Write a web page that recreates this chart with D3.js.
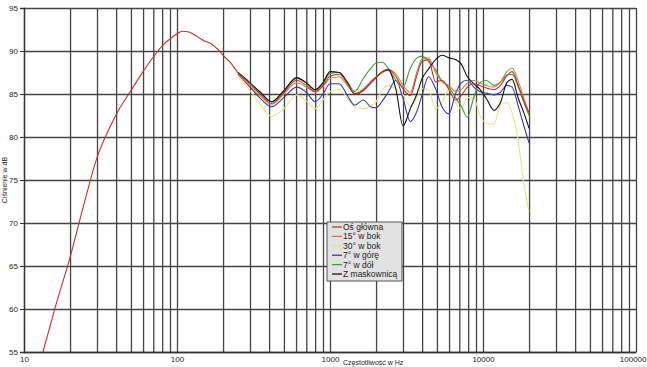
<!DOCTYPE html>
<html>
<head>
<meta charset="utf-8">
<script src="https://cdn.jsdelivr.net/npm/d3@7"></script>
<style>
  body { margin: 0; background: #fff; }
  text { font-family: "Liberation Sans", Arial, sans-serif; fill: #222; }
  .grid line { stroke: #444; stroke-width: 1.3; }
  .grid path { display: none; }
</style>
</head>
<body>
<div id="chart"></div>
<script>
// ---- data ----
var yTicks = [55, 60, 65, 70, 75, 80, 85, 90, 95];
var xTickLabels = [10, 100, 1000, 10000, 100000];

// low frequency part, only the main axis curve
var lowFreqs = [13.3, 16, 20, 25, 30, 35, 40, 50, 60, 70, 80, 90, 100, 108, 120, 135, 150, 165, 185, 200, 222];
var lowMain = [55, 60.2, 66.0, 72.6, 77.6, 80.5, 82.6, 85.4, 87.6, 89.3, 90.6, 91.4, 92.0, 92.3, 92.2, 91.7, 91.2, 90.9, 90.2, 89.5, 88.7];

// shared frequencies for all six curves
var midFreqs = [250, 300, 350, 415, 500, 605, 700, 800, 900, 1000, 1150, 1300, 1450, 1650, 1850, 2000, 2200, 2400, 2700, 3000,
  3350, 3700, 4000, 4400, 4900, 5400, 6000, 6600, 7200, 7900, 8700, 9500, 10500, 11800, 13000, 14300, 15500, 17000, 18500, 20000];

var osGlowna = [87.5, 86.2, 85.0, 83.9, 85.2, 86.6, 86.0, 85.3, 86.0, 87.1, 87.3, 86.2, 85.0, 85.4, 86.3, 86.9, 87.6, 87.9, 87.0, 85.6,
  84.8, 87.2, 88.8, 89.0, 86.4, 86.6, 85.5, 84.3, 84.8, 85.8, 86.2, 86.0, 85.7, 85.5, 86.0, 87.1, 87.6, 86.0, 84.2, 82.8];
var bok15 = [87.3, 86.0, 84.8, 83.8, 85.0, 86.3, 85.8, 85.2, 85.9, 86.8, 87.0, 86.0, 85.1, 85.6, 86.5, 87.0, 87.5, 87.8, 87.3, 86.0,
  85.2, 87.6, 89.1, 89.2, 87.5, 86.4, 86.0, 85.3, 85.5, 86.3, 86.6, 86.3, 86.0, 85.8, 86.4, 87.6, 88.0, 86.5, 84.5, 82.8];
var bok30 = [87.0, 85.4, 83.8, 82.4, 83.3, 84.9, 84.2, 83.3, 84.3, 85.3, 85.5, 84.5, 83.5, 83.3, 83.6, 84.1, 85.5, 86.0, 85.6, 84.9,
  83.6, 84.5, 85.6, 85.5, 83.3, 84.0, 85.6, 84.0, 83.3, 84.6, 84.6, 82.6, 81.6, 81.5, 83.7, 84.0, 82.8, 79.5, 74.5, 71.3];
var gora7 = [87.3, 85.8, 84.5, 83.5, 84.6, 85.8, 85.2, 84.1, 85.0, 86.2, 86.2, 84.8, 83.7, 84.3, 83.5, 83.4, 84.2, 85.2, 86.6, 84.5,
  81.8, 83.0, 84.9, 87.0, 85.6, 83.5, 82.7, 85.0, 86.3, 86.6, 85.8, 85.3, 85.1, 84.9, 85.2, 86.0, 85.8, 83.6, 81.3, 79.3];
var dol7 = [87.5, 86.3, 85.2, 84.1, 85.4, 86.8, 86.3, 85.5, 86.3, 87.4, 87.5, 86.4, 85.3, 86.8, 88.0, 88.6, 88.7, 88.0, 86.6, 85.8,
  88.0, 89.2, 89.4, 88.8, 87.8, 86.5, 85.8, 84.6, 83.6, 82.3, 84.6, 86.3, 86.6, 86.0, 86.4, 87.2, 87.3, 85.8, 84.0, 82.5];
var maskownica = [87.5, 86.3, 85.2, 84.1, 85.4, 86.9, 86.3, 85.5, 86.3, 87.6, 87.5, 86.3, 85.0, 85.4, 86.3, 86.9, 87.6, 87.8, 85.5, 81.3,
  83.3, 85.0, 86.8, 87.9, 89.0, 89.5, 89.2, 89.0, 88.5, 87.0, 86.2, 85.6, 84.5, 83.1, 84.0, 86.3, 86.7, 84.5, 82.8, 81.0];

var seriesNames = ["Oś główna", "15° w bok", "30° w bok", "7° w górę", "7° w dół", "Z maskownicą"];
var seriesColors = ["#c8302c", "#c4884e", "#e4e48a", "#3a3aa4", "#3f9a3f", "#111111"];
var seriesValues = [osGlowna, bok15, bok30, gora7, dol7, maskownica];

// ---- layout ----
var margin = { top: 8, right: 11, bottom: 15, left: 24 },
  width = 647 - margin.left - margin.right,
  height = 367 - margin.top - margin.bottom;

var svg = d3.select("#chart")
  .append("svg")
  .attr("width", 647)
  .attr("height", 367)
  .append("g")
  .attr("transform", "translate(" + margin.left + "," + margin.top + ")");

var x = d3.scaleLog()
  .domain([10, 100000])
  .range([0, width]);

var y = d3.scaleLinear()
  .domain([55, 95])
  .range([height, 0]);

// vertical gridlines at every log tick
var logTicks = [];
for (var dec = 10; dec < 100000; dec *= 10) {
  for (var k = 1; k < 10; k++) logTicks.push(dec * k);
}
logTicks.push(100000);

svg.append("g")
  .attr("class", "grid")
  .attr("transform", "translate(0," + height + ")")
  .call(d3.axisBottom(x).tickValues(logTicks).tickSize(-height).tickFormat(""));

// horizontal gridlines
svg.append("g")
  .attr("class", "grid")
  .call(d3.axisLeft(y).tickValues(yTicks).tickSize(-width).tickFormat(""));

// left axis with little ticks and labels
var yAxis = svg.append("g")
  .call(d3.axisLeft(y).tickValues(yTicks).tickSize(4).tickPadding(2));
yAxis.select(".domain").attr("stroke", "#333").attr("stroke-width", 1.3);
yAxis.selectAll("line").attr("stroke", "#333");
yAxis.selectAll("text").style("font-size", "8px").attr("fill", "#222");

// bottom axis labels
var xAxis = svg.append("g")
  .attr("transform", "translate(0," + height + ")")
  .call(d3.axisBottom(x).tickValues(xTickLabels).tickSize(0).tickPadding(4).tickFormat(d3.format("d")));
xAxis.select(".domain").attr("stroke", "#333").attr("stroke-width", 1.3);
xAxis.selectAll("text").style("font-size", "8px").attr("fill", "#222");
// last label would run off the right edge
xAxis.selectAll("text")
  .filter(function (d) { return d === 100000; })
  .attr("text-anchor", "end")
  .attr("x", 647 - margin.left - width - 1);

// axis titles
svg.append("text")
  .attr("transform", "rotate(-90)")
  .attr("x", -height / 2)
  .attr("y", -margin.left + 7)
  .style("text-anchor", "middle")
  .style("font-size", "7px")
  .text("Ciśnienie w dB");

// x title sits just right of the "1000" label so the two do not collide
svg.append("text")
  .attr("x", x(1000) + 13)
  .attr("y", height + 12.5)
  .style("text-anchor", "start")
  .style("font-size", "7px")
  .text("Częstotliwość w Hz");

// curves
var line = d3.line()
  .x(function (d) { return x(d[0]); })
  .y(function (d) { return y(d[1]); })
  .curve(d3.curveMonotoneX);

// draw back to front, main axis on top of the group
var drawOrder = [2, 3, 4, 1, 5, 0];
drawOrder.forEach(function (i) {
  var pts = midFreqs.map(function (f, j) { return [f, seriesValues[i][j]]; });
  if (i === 0) {
    pts = lowFreqs.map(function (f, j) { return [f, lowMain[j]]; }).concat(pts);
  }
  svg.append("path")
    .datum(pts)
    .attr("fill", "none")
    .attr("stroke", seriesColors[i])
    .attr("stroke-width", 1.1)
    .attr("d", line);
});

// legend
var lg = svg.append("g")
  .attr("transform", "translate(" + (327 - margin.left) + "," + (222 - margin.top) + ")");
lg.append("rect")
  .attr("width", 75)
  .attr("height", 59)
  .attr("fill", "#e2e2e2")
  .attr("stroke", "#555")
  .attr("stroke-width", 1);

seriesNames.forEach(function (name, i) {
  var row = lg.append("g").attr("transform", "translate(0," + (5 + i * 9.4) + ")");
  row.append("line")
    .attr("x1", 5).attr("x2", 15)
    .attr("y1", 0).attr("y2", 0)
    .attr("stroke", seriesColors[i])
    .attr("stroke-width", 1.3);
  row.append("text")
    .attr("x", 16)
    .attr("y", 3)
    .style("font-size", "8.5px")
    .text(name);
});
</script>
</body>
</html>
